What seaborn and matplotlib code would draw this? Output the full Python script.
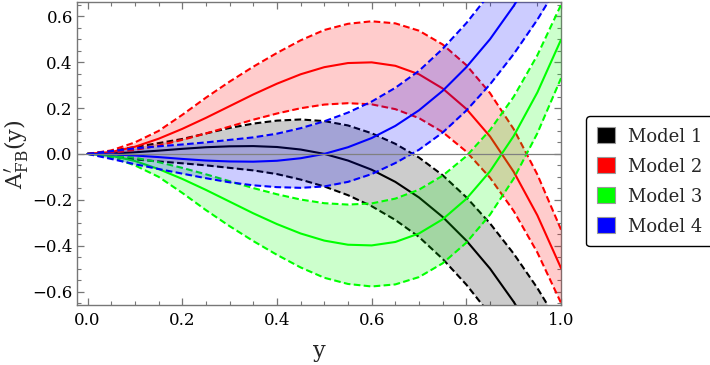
import matplotlib
matplotlib.use("Agg")
import matplotlib.pyplot as plt
from matplotlib.patches import Patch
from matplotlib.ticker import MultipleLocator, FuncFormatter
import seaborn as sns

# y values (horizontal axis)
y_grid = [0.00, 0.05, 0.10, 0.15, 0.20, 0.25, 0.30, 0.35, 0.40, 0.45, 0.50,
          0.55, 0.60, 0.65, 0.70, 0.75, 0.80, 0.85, 0.90, 0.95, 1.00]

# Model 1 (black): central curve and band edges
m1_mid = [0.000, 0.002, 0.007, 0.014, 0.022, 0.029, 0.033, 0.034, 0.030, 0.019, 0.000,
          -0.029, -0.069, -0.122, -0.190, -0.275, -0.378, -0.500, -0.645, -0.813, -1.006]
m1_hi = [0.000, 0.013, 0.030, 0.047, 0.065, 0.089, 0.113, 0.132, 0.145, 0.150, 0.143,
         0.124, 0.090, 0.044, -0.016, -0.093, -0.189, -0.303, -0.435, -0.585, -0.755]
m1_lo = [0.000, -0.012, -0.024, -0.033, -0.041, -0.050, -0.061, -0.072, -0.088, -0.112, -0.142,
         -0.180, -0.228, -0.288, -0.362, -0.458, -0.570, -0.700, -0.850, -1.020, -1.200]

# Model 2 (red)
m2_mid = [0.000, 0.008, 0.031, 0.066, 0.109, 0.157, 0.208, 0.259, 0.306, 0.347, 0.378,
          0.396, 0.399, 0.384, 0.347, 0.285, 0.196, 0.076, -0.078, -0.268, -0.498]
m2_hi = [0.000, 0.015, 0.050, 0.100, 0.170, 0.245, 0.315, 0.380, 0.440, 0.495, 0.540,
         0.567, 0.578, 0.569, 0.537, 0.477, 0.387, 0.265, 0.108, -0.090, -0.330]
m2_lo = [0.000, 0.004, 0.017, 0.036, 0.061, 0.089, 0.119, 0.149, 0.176, 0.199, 0.215,
         0.221, 0.216, 0.195, 0.156, 0.095, 0.010, -0.104, -0.249, -0.430, -0.650]

# Model 3 (green)
m3_mid = [0.000, -0.008, -0.031, -0.066, -0.109, -0.157, -0.208, -0.259, -0.306, -0.347, -0.378,
          -0.396, -0.399, -0.384, -0.347, -0.285, -0.196, -0.076, 0.078, 0.268, 0.498]
m3_hi = [0.000, -0.004, -0.017, -0.036, -0.061, -0.089, -0.119, -0.149, -0.176, -0.199, -0.215,
         -0.221, -0.216, -0.195, -0.156, -0.095, -0.010, 0.104, 0.249, 0.430, 0.650]
m3_lo = [0.000, -0.015, -0.050, -0.100, -0.170, -0.245, -0.315, -0.380, -0.440, -0.495, -0.540,
         -0.567, -0.578, -0.569, -0.537, -0.477, -0.387, -0.265, -0.108, 0.090, 0.330]

# Model 4 (blue)
m4_mid = [0.000, -0.002, -0.007, -0.014, -0.022, -0.029, -0.033, -0.034, -0.030, -0.019, 0.000,
          0.029, 0.069, 0.122, 0.190, 0.275, 0.378, 0.500, 0.645, 0.813, 1.006]
m4_hi = [0.000, 0.012, 0.024, 0.033, 0.041, 0.050, 0.061, 0.072, 0.088, 0.112, 0.142,
         0.180, 0.228, 0.288, 0.362, 0.458, 0.570, 0.700, 0.850, 1.020, 1.200]
m4_lo = [0.000, -0.022, -0.045, -0.066, -0.086, -0.106, -0.124, -0.137, -0.145, -0.148, -0.142,
         -0.122, -0.088, -0.040, 0.018, 0.093, 0.189, 0.303, 0.435, 0.585, 0.755]

model_names = ["Model 1", "Model 2", "Model 3", "Model 4"]
model_colors = ["#000000", "#ff0000", "#00ff00", "#0000ff"]

sns.set_style("ticks")
plt.rcParams["font.family"] = ["DejaVu Serif"]
plt.rcParams["mathtext.fontset"] = "dejavuserif"

fig = plt.figure(figsize=(7.1, 3.65), dpi=100)
ax = fig.add_axes([0.1085, 0.1636, 0.6817, 0.8296])

bands = [(m1_lo, m1_mid, m1_hi), (m2_lo, m2_mid, m2_hi),
         (m3_lo, m3_mid, m3_hi), (m4_lo, m4_mid, m4_hi)]

# each model drawn on top of the previous one (fill then its lines)
for i, ((lo, mid, hi), col) in enumerate(zip(bands, model_colors)):
    z = 1 + 2 * i
    ax.fill_between(y_grid, lo, hi, color=col, alpha=0.2, lw=0, zorder=z)
    sns.lineplot(x=y_grid, y=mid, color=col, lw=1.5, ax=ax, zorder=z + 1)
    for edge in (lo, hi):
        sns.lineplot(x=y_grid, y=edge, color=col, lw=1.5, ax=ax, zorder=z + 1,
                     linestyle=(0, (3.2, 1.6)))

ax.axhline(0, color="#808080", lw=0.9, zorder=20)

ax.set_xlim(-0.0222, 1.0)
ax.set_ylim(-0.66, 0.66)
ax.xaxis.set_major_locator(MultipleLocator(0.2))
ax.xaxis.set_minor_locator(MultipleLocator(0.05))
ax.yaxis.set_major_locator(MultipleLocator(0.2))
ax.yaxis.set_minor_locator(MultipleLocator(0.05))
fmt = FuncFormatter(lambda v, p: ("\u2212" if v < -1e-9 else "") + "%.1f" % abs(v))
ax.xaxis.set_major_formatter(fmt)
ax.yaxis.set_major_formatter(fmt)

ax.tick_params(which="both", direction="in", top=True, right=True,
               colors="#777777", labelcolor="black", labelsize=12)
ax.tick_params(which="major", length=5, width=0.9)
ax.tick_params(which="minor", length=2.8, width=0.8)
ax.tick_params(axis="x", which="major", pad=5)
ax.tick_params(axis="y", which="major", pad=3)
for sp in ax.spines.values():
    sp.set_color("#777777")
    sp.set_linewidth(1.0)

ax.set_xlabel("y", fontsize=16, labelpad=8)
ax.set_ylabel(r"$\mathrm{A}^{\prime}_{\mathrm{FB}}\mathrm{(y)}$", fontsize=16, labelpad=2)

handles = [Patch(facecolor=c, edgecolor="#999999", lw=0.8, label=n)
           for n, c in zip(model_names, model_colors)]
leg = fig.legend(handles=handles, loc="center left", bbox_to_anchor=(0.826, 0.503),
                 borderaxespad=0, fontsize=13, frameon=True, fancybox=True, framealpha=1,
                 edgecolor="black", handlelength=1.0, handleheight=1.0,
                 labelspacing=0.65, handletextpad=0.7, borderpad=0.6)
leg.get_frame().set_linewidth(1.0)

fig.savefig("out.png", dpi=100)
